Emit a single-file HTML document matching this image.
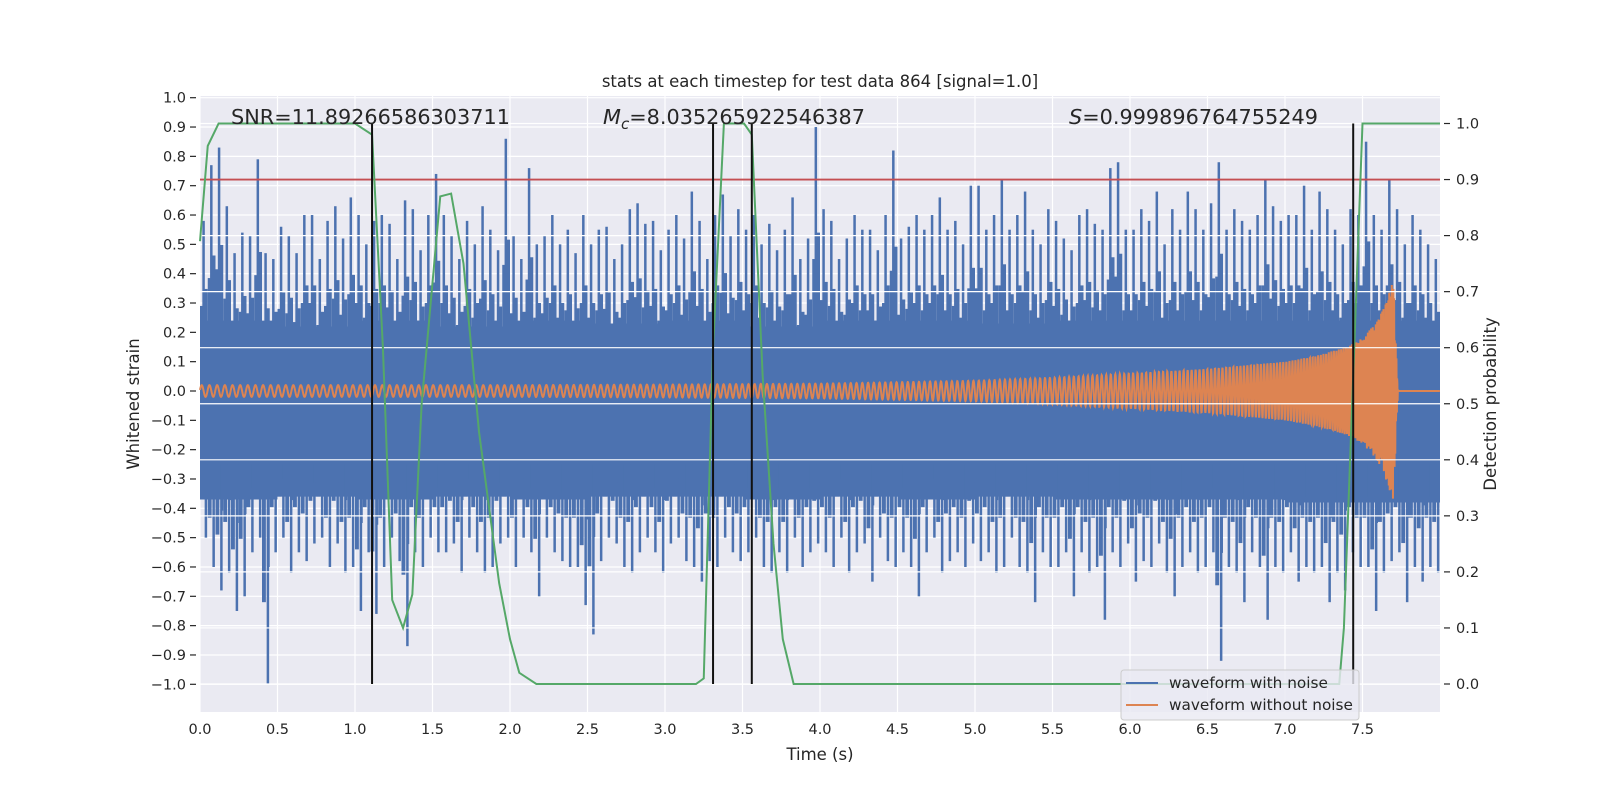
<!DOCTYPE html>
<html><head><meta charset="utf-8"><style>
body{margin:0;background:#fff;}
svg{display:block;font-family:"DejaVu Sans","Liberation Sans",sans-serif;}
</style></head><body>
<svg id="chart" width="1600" height="800" viewBox="0 0 1600 800">
<rect x="200" y="96" width="1240" height="616" fill="#eaeaf2"/>
<g id="grid"></g><g id="noise"></g><g id="clean"></g><g id="rgrid"></g><g id="over"></g><g id="axes"></g>
<text x="820" y="87" text-anchor="middle" font-size="16.5" fill="#262626">stats at each timestep for test data 864 [signal=1.0]</text>
<text x="231" y="124" font-size="20.8" fill="#262626">SNR=11.89266586303711</text>
<text x="603" y="124" font-size="20.8" fill="#262626"><tspan font-style="italic">M</tspan><tspan font-style="italic" font-size="15" dy="5">c</tspan><tspan dy="-5">=8.035265922546387</tspan></text>
<text x="1069" y="124" font-size="20.8" fill="#262626"><tspan font-style="italic">S</tspan>=0.999896764755249</text>
<text x="820" y="760" text-anchor="middle" font-size="16.5" fill="#262626">Time (s)</text>
<text transform="translate(139,404) rotate(-90)" text-anchor="middle" font-size="16.5" fill="#262626">Whitened strain</text>
<text transform="translate(1496,404) rotate(-90)" text-anchor="middle" font-size="16.5" fill="#262626">Detection probability</text>
<g>
<rect x="1121" y="670" width="238" height="50" rx="3" fill="#eaeaf2" fill-opacity="0.8" stroke="#cccccc"/>
<line x1="1126" y1="683" x2="1158" y2="683" stroke="#4c72b0" stroke-width="2"/>
<text x="1169" y="688" font-size="15.3" fill="#262626">waveform with noise</text>
<line x1="1126" y1="705" x2="1158" y2="705" stroke="#dd8452" stroke-width="2"/>
<text x="1169" y="710" font-size="15.3" fill="#262626">waveform without noise</text>
</g>
</svg>
<script>
const xTicks=[0,0.5,1,1.5,2,2.5,3,3.5,4,4.5,5,5.5,6,6.5,7,7.5];
const yTicks=[-1,-0.9,-0.8,-0.7,-0.6,-0.5,-0.4,-0.3,-0.2,-0.1,0,0.1,0.2,0.3,0.4,0.5,0.6,0.7,0.8,0.9,1.0];
const y2Ticks=[0,0.1,0.2,0.3,0.4,0.5,0.6,0.7,0.8,0.9,1.0];
const noiseHi=[0.58,0.77,0.83,0.63,0.47,0.54,0.53,0.79,0.47,0.45,0.56,0.53,0.47,0.6,0.6,0.45,0.58,0.63,0.52,0.66,0.6,0.5,0.58,0.6,0.57,0.45,0.65,0.62,0.48,0.6,0.74,0.6,0.53,0.45,0.58,0.5,0.63,0.55,0.48,0.86,0.53,0.45,0.76,0.5,0.53,0.6,0.5,0.55,0.47,0.6,0.5,0.55,0.56,0.45,0.5,0.62,0.64,0.57,0.58,0.48,0.55,0.6,0.52,0.68,0.58,0.45,0.6,0.67,0.53,0.62,0.55,0.6,0.5,0.57,0.48,0.55,0.66,0.45,0.52,0.9,0.62,0.58,0.45,0.52,0.6,0.55,0.55,0.48,0.6,0.82,0.52,0.56,0.6,0.55,0.6,0.66,0.55,0.58,0.5,0.7,0.7,0.55,0.6,0.72,0.55,0.6,0.68,0.55,0.5,0.62,0.58,0.52,0.48,0.6,0.62,0.57,0.55,0.76,0.78,0.55,0.55,0.62,0.58,0.68,0.5,0.62,0.55,0.68,0.62,0.55,0.64,0.78,0.55,0.62,0.58,0.55,0.6,0.72,0.63,0.58,0.6,0.6,0.7,0.55,0.68,0.62,0.55,0.5,0.62,0.6,0.85,0.6,0.55,0.72,0.62,0.5,0.6,0.55,0.5,0.45];
const noiseLo=[-0.5,-0.6,-0.68,-0.62,-0.75,-0.7,-0.55,-0.5,-1.0,-0.55,-0.5,-0.62,-0.55,-0.58,-0.52,-0.5,-0.6,-0.52,-0.62,-0.6,-0.75,-0.55,-0.76,-0.6,-0.5,-0.58,-0.87,-0.55,-0.6,-0.5,-0.55,-0.55,-0.52,-0.62,-0.5,-0.55,-0.62,-0.6,-0.52,-0.5,-0.6,-0.5,-0.55,-0.7,-0.5,-0.55,-0.58,-0.6,-0.6,-0.73,-0.83,-0.58,-0.5,-0.52,-0.6,-0.62,-0.55,-0.5,-0.55,-0.62,-0.52,-0.5,-0.58,-0.6,-0.65,-0.58,-0.6,-0.5,-0.55,-0.58,-0.55,-0.5,-0.6,-0.62,-0.55,-0.62,-0.5,-0.6,-0.55,-0.52,-0.55,-0.6,-0.5,-0.62,-0.55,-0.52,-0.65,-0.5,-0.58,-0.6,-0.55,-0.6,-0.7,-0.55,-0.5,-0.62,-0.58,-0.55,-0.6,-0.52,-0.58,-0.55,-0.62,-0.6,-0.5,-0.6,-0.62,-0.72,-0.55,-0.6,-0.6,-0.55,-0.7,-0.55,-0.62,-0.6,-0.78,-0.55,-0.6,-0.52,-0.65,-0.58,-0.6,-0.52,-0.62,-0.7,-0.6,-0.55,-0.62,-0.6,-0.55,-0.92,-0.6,-0.62,-0.72,-0.55,-0.6,-0.78,-0.6,-0.62,-0.55,-0.65,-0.6,-0.62,-0.6,-0.72,-0.62,-0.68,-0.55,-0.6,-0.6,-0.75,-0.62,-0.58,-0.55,-0.72,-0.6,-0.65,-0.6,-0.62];
const coreHi=[0.24,0.22,0.24,0.22,0.24,0.23,0.24,0.22,0.24,0.24,0.23,0.24,0.24,0.24,0.24,0.24];
const coreLo=[-0.37,-0.36,-0.37,-0.36,-0.37,-0.36,-0.36,-0.37,-0.36,-0.37,-0.36,-0.37,-0.37,-0.37,-0.38,-0.38];
const envT=[0,1,2,3,4,5,5.5,6,6.5,7,7.2,7.4,7.5,7.6,7.65,7.7,7.72,7.73,8];
const envA=[0.02,0.02,0.02,0.022,0.025,0.035,0.045,0.06,0.075,0.1,0.12,0.15,0.18,0.24,0.3,0.38,0.1,0,0];
const freqT=[0,2,4,5,6,6.5,7,7.3,7.5,7.6,7.7,8];
const freqF=[20,22,26,29,35,40,50,60,80,110,200,200];
const probT=[0,0.05,0.12,1.0,1.11,1.18,1.24,1.31,1.37,1.43,1.55,1.62,1.7,1.8,1.93,2.0,2.06,2.17,3.2,3.25,3.31,3.38,3.51,3.56,3.63,3.7,3.76,3.83,7.35,7.38,7.42,7.5,8.0];
const probV=[0.79,0.96,1.0,1.0,0.98,0.6,0.15,0.1,0.16,0.5,0.87,0.875,0.75,0.45,0.18,0.08,0.02,0,0,0.01,0.6,1.0,1.0,0.98,0.55,0.25,0.08,0,0,0.1,0.4,1.0,1.0];
const detectT=[1.11,3.31,3.56,7.44];
const threshold=[0.9];
const binW=0.05, coreW=0.5;

const NS='http://www.w3.org/2000/svg';
const X=t=>200+t*155;
const Y=v=>391-v*293.3;
const Y2=p=>684-p*560.5;
function mk(tag,at,parent){const e=document.createElementNS(NS,tag);for(const k in at)e.setAttribute(k,at[k]);document.getElementById(parent).appendChild(e);return e;}
function interp(ts,vs,t){for(let i=1;i<ts.length;i++){if(t<=ts[i]){const f=(t-ts[i-1])/(ts[i]-ts[i-1]);return vs[i-1]+f*(vs[i]-vs[i-1]);}}return vs[vs.length-1];}

xTicks.forEach(t=>{const l=mk('line',{x1:X(t),x2:X(t),y1:96,y2:712,stroke:'#fff','stroke-width':1.2},'grid');

});
yTicks.forEach(v=>{const l=mk('line',{x1:200,x2:1440,y1:Y(v),y2:Y(v),stroke:'#fff','stroke-width':1.2},'grid');

});

let cp='';
coreHi.forEach((v,i)=>{cp+=(i?'L':'M')+X(i*coreW)+','+Y(v)+'L'+X((i+1)*coreW)+','+Y(v);});
for(let i=coreLo.length-1;i>=0;i--){cp+='L'+X((i+1)*coreW)+','+Y(coreLo[i])+'L'+X(i*coreW)+','+Y(coreLo[i]);}
const core=mk('path',{d:cp+'Z',fill:'#4c72b0'},'noise');


const bw=X(binW)-X(0);
noiseHi.forEach((v,i)=>{const x=X(i*binW);
const r=mk('rect',{x:x+bw*0.3,y:Y(v),width:2.5,height:Y(0.15)-Y(v),fill:'#4c72b0'},'noise');


const s=mk('rect',{x:x+bw*0.5,y:Y(v*0.6),width:bw*0.5,height:Y(0.15)-Y(v*0.6),fill:'#4c72b0'},'noise');


const s2=mk('rect',{x:x,y:Y(v*0.5),width:bw*0.35,height:Y(0.15)-Y(v*0.5),fill:'#4c72b0'},'noise');

});
noiseLo.forEach((v,i)=>{const x=X(i*binW);
const r=mk('rect',{x:x+bw*0.6,y:Y(-0.25),width:2.5,height:Y(v)-Y(-0.25),fill:'#4c72b0'},'noise');


const s=mk('rect',{x:x,y:Y(-0.25),width:bw*0.5,height:Y(v*0.72)-Y(-0.25),fill:'#4c72b0'},'noise');


const s2=mk('rect',{x:x+bw*0.7,y:Y(-0.25),width:bw*0.3,height:Y(v*0.6)-Y(-0.25),fill:'#4c72b0'},'noise');

});

let ph=0,d='',dt=0.0015;
for(let t=0;t<=8;t+=dt){const a=interp(envT,envA,t);ph+=2*Math.PI*interp(freqT,freqF,t)*dt;d+=(t?'L':'M')+X(t).toFixed(2)+','+Y(a*Math.sin(ph)).toFixed(2);}
const cl=mk('path',{d:d,fill:'none',stroke:'#dd8452','stroke-width':2},'clean');



y2Ticks.forEach(p=>{const l=mk('line',{x1:200,x2:1440,y1:Y2(p),y2:Y2(p),stroke:'#fff','stroke-width':1.2},'rgrid');

});

threshold.forEach(p=>{const l=mk('line',{x1:200,x2:1440,y1:Y2(p),y2:Y2(p),stroke:'#c44e52','stroke-width':1.8},'over');

});
let pd='';probT.forEach((t,i)=>{pd+=(i?'L':'M')+X(t)+','+Y2(probV[i]);});
const pl=mk('path',{d:pd,fill:'none',stroke:'#55a868','stroke-width':2},'over');


detectT.forEach(t=>{const l=mk('line',{x1:X(t),x2:X(t),y1:Y2(0),y2:Y2(1),stroke:'#111','stroke-width':2},'over');

});

xTicks.forEach(t=>{const e=mk('text',{x:X(t),y:734,'text-anchor':'middle','font-size':14.5,fill:'#262626'},'axes');e.textContent=t.toFixed(1);

});
yTicks.forEach(v=>{const e=mk('text',{x:186,y:Y(v)+5,'text-anchor':'end','font-size':14.5,fill:'#262626'},'axes');e.textContent=(v<0?'\u2212':'')+Math.abs(v).toFixed(1);


const k=mk('line',{x1:190,x2:196,y1:Y(v),y2:Y(v),stroke:'#262626','stroke-width':1.2},'axes');

});
y2Ticks.forEach(p=>{const e=mk('text',{x:1456,y:Y2(p)+5,'font-size':14.5,fill:'#262626'},'axes');e.textContent=p.toFixed(1);


const k=mk('line',{x1:1444,x2:1450,y1:Y2(p),y2:Y2(p),stroke:'#262626','stroke-width':1.2},'axes');

});
</script>
</body></html>
